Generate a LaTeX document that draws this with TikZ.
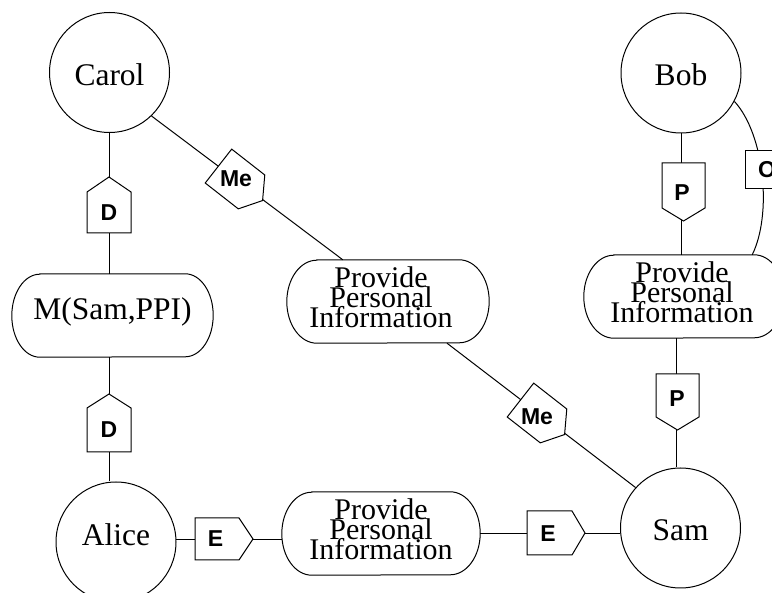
\documentclass[tikz,border=0pt]{standalone}
\usepackage{fontspec}
\setmainfont{Liberation Serif}
\setsansfont{Liberation Sans}
\usetikzlibrary{backgrounds}
\tikzset{
  x=1pt, y=1pt,
  agent/.style={circle, draw, line width=1pt, minimum size=120pt, inner sep=0pt,
    font={\fontsize{31.5}{36}\selectfont}, text height=26pt, text depth=0pt},
  capsule/.style={rectangle, draw=none, minimum height=83pt, inner sep=0pt},
  capline/.style={draw, line width=1pt},
  ppitext/.style={align=center, inner sep=0pt,
    font={\fontsize{30}{20}\selectfont\lineskiplimit=-30pt\lineskip=0pt}},
  tagtext/.style={inner sep=0pt, font={\sffamily\bfseries\fontsize{23}{26}\selectfont}},
  tagshape/.style={draw, fill=white, line width=1pt, line join=miter},
  conn/.style={draw, line width=1pt},
}
\newcommand\tagpent[5]{%
  \path[tagshape, shift={#1}, rotate=#2]
    ({-(#3)/2},{-(#4)/2}) -- ({(#3)/2},{-(#4)/2}) -- ({(#3)/2+#5},0)
    -- ({(#3)/2},{(#4)/2}) -- ({-(#3)/2},{(#4)/2}) -- cycle;}
\newcommand\capsuleline[2]{%
  \path[capline] ([xshift=#2]#1.north west) -- ([xshift=-#2]#1.north east)
    arc[start angle=90, end angle=-90, x radius=#2, y radius=41.5pt]
    -- ([xshift=#2]#1.south west)
    arc[start angle=270, end angle=90, x radius=#2, y radius=41.5pt] -- cycle;}
\begin{document}
\begin{tikzpicture}
\useasboundingbox (0,0) rectangle (772,-593);
\clip (0,0) rectangle (772,-593);

% agents
\node[agent] (carol) at (109.5,-72.5) {Carol};
\node[agent] (bob) at (681,-73) {Bob};
\node[agent, text height=21.5pt, text depth=13.5pt] (alice) at (116,-542) {Alice};
\node[agent] (sam) at (680.5,-528) {Sam};

% capsules
\node[capsule, minimum width=201pt] (msp) at (112.5,-315.5) {};
\capsuleline{msp}{28pt}
\node[inner sep=0pt, font={\fontsize{31.5}{36}\selectfont}] (msptext) at (112.5,-312) {M(Sam,PPI)};

\node[capsule, minimum width=202pt] (ppiA) at (388,-301.5) {};
\capsuleline{ppiA}{30pt}
\node[ppitext] (ppiAt) at (381,-297.25) {Provide\\Personal\\Information};

\node[capsule, minimum width=200pt] (ppiB) at (684,-296.5) {};
\capsuleline{ppiB}{30pt}
\node[ppitext] (ppiBt) at (682,-292.25) {Provide\\Personal\\Information};

\node[capsule, minimum width=198pt] (ppiC) at (381,-533.5) {};
\capsuleline{ppiC}{30pt}
\node[ppitext] (ppiCt) at (381,-529.25) {Provide\\Personal\\Information};

% tags
\tagpent{(109,-212.5)}{90}{41}{44}{15}
\node[tagtext] (d1) at (109,-212.5) {D};
\tagpent{(109,-430)}{90}{44}{44}{14}
\node[tagtext] (d2) at (109,-430) {D};
\tagpent{(683.5,-185.5)}{-90}{45}{43}{13}
\node[tagtext] (p1) at (682,-192.5) {P};
\tagpent{(677.5,-395.5)}{-90}{43}{43}{13}
\node[tagtext] (p2) at (677,-398.5) {P};
\tagpent{(217,-539)}{0}{44}{42}{14}
\node[tagtext] (e1) at (215.5,-539) {E};
\tagpent{(549.5,-533)}{0}{45}{44}{13}
\node[tagtext] (e2) at (548,-533.5) {E};
\tagpent{(235,-179)}{-38}{42}{43}{14}
\node[tagtext] (me1) at (236,-179) {Me};
\tagpent{(537,-413)}{-38}{42}{43}{14}
\node[tagtext] (me2) at (537,-417) {Me};
\node[tagtext, draw, fill=white, line width=1pt, minimum width=44pt, minimum height=38pt] (o) at (767,-170) {O};

% connectors
\begin{pgfonlayer}{background}
\fill[white] (0,0) rectangle (772,-593);
\path[conn] (carol.south) -- (carol.south |- msp.north);
\path[conn] (carol.south |- msp.south) -- (carol.south |- alice.north);
\path[conn] (carol.-46) -- ([xshift=56pt]ppiA.north west);
\path[conn] ([xshift=59pt]ppiA.south) -- (sam.138);
\path[conn] (bob.south) -- (bob.south |- ppiB.north);
\path[conn] ([xshift=-4pt]sam.north |- ppiB.south) -- ([xshift=-4pt]sam.north);
\path[conn] (alice.2) -- (alice.2 -| ppiC.west);
\path[conn] (ppiC.east) -- (ppiC.east -| sam.west);
\path[conn] (bob.-28) .. controls (765,-135) and (772,-215) .. ([xshift=-32pt]ppiB.north east);
\end{pgfonlayer}
\end{tikzpicture}
\end{document}
